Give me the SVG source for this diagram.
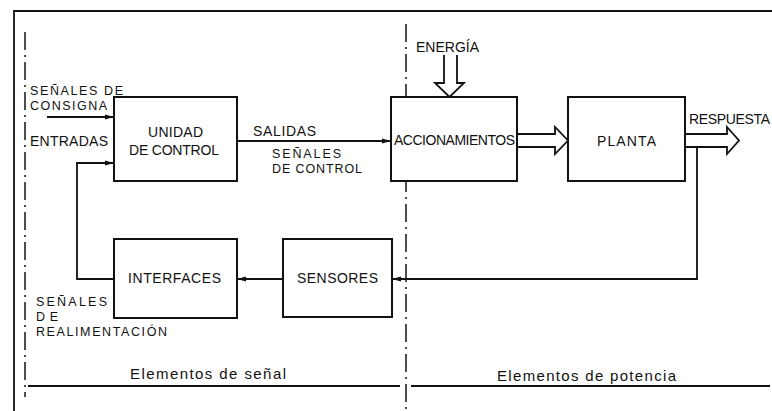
<svg xmlns="http://www.w3.org/2000/svg" width="772" height="411" viewBox="0 0 772 411">
<defs>
<style>
.t{font-family:"Liberation Sans","DejaVu Sans",sans-serif;font-size:14px;fill:#111;}
.s{font-family:"Liberation Sans","DejaVu Sans",sans-serif;font-size:12.5px;fill:#111;}
.tl{font-family:"Liberation Sans","DejaVu Sans",sans-serif;font-size:15px;fill:#111;}
.box{fill:#fff;stroke:#111;stroke-width:2;}
.ln{fill:none;stroke:#111;stroke-width:1.8;}
.dd{fill:none;stroke:#222;stroke-width:1.6;stroke-dasharray:18 5 2 5;}
.hol{fill:#fff;stroke:#111;stroke-width:1.8;stroke-linejoin:miter;}
</style>
<marker id="ah" markerWidth="10" markerHeight="8" refX="9" refY="3.5" orient="auto" markerUnits="userSpaceOnUse">
<path d="M0,1 L9,3.5 L0,6 Z" fill="#111"/>
</marker>
</defs>
<rect width="772" height="411" fill="#fff"/>

<g id="frame">
<path class="ln" d="M14,411 V11 H772" stroke-width="2"/>
<path class="dd" d="M25,32 V397"/>
<path class="dd" d="M406,24 V411"/>
<path class="ln" d="M28,386 H400 M411,386 H770" stroke-width="1.6"/>
<text class="tl" x="130" y="379" textLength="156" lengthAdjust="spacing">Elementos de señal</text>
<text class="tl" x="497" y="381" textLength="179" lengthAdjust="spacing">Elementos de potencia</text>
</g>

<g id="connectors">
<path class="ln" d="M47,117 H114" marker-end="url(#ah)"/>
<path class="ln" d="M114,279 H77 V163 H114" marker-end="url(#ah)"/>
<path class="ln" d="M237,141 H391" marker-end="url(#ah)"/>
<path class="ln" d="M283,279 H237" marker-end="url(#ah)"/>
<path class="ln" d="M697,147 V279 H392" marker-end="url(#ah)"/>
<path class="hol" d="M444,55 V83 H435 L449.5,97 L464,83 H457 V55"/>
<path class="hol" d="M517,134 H555 V127 L568,140.5 L555,154 V147 H517"/>
<path class="hol" d="M685,134 H727 V127 L739,140.5 L727,154 V147 H685"/>
</g>

<g id="labels">
<text class="s" x="30" y="95" textLength="93" lengthAdjust="spacing">SEÑALES DE</text>
<text class="s" x="30" y="110" textLength="77" lengthAdjust="spacing">CONSIGNA</text>
<text class="t" x="30" y="146" textLength="78" lengthAdjust="spacing">ENTRADAS</text>
<text class="t" x="253" y="136" textLength="63" lengthAdjust="spacing">SALIDAS</text>
<text class="s" x="272" y="158" textLength="69" lengthAdjust="spacing">SEÑALES</text>
<text class="s" x="272" y="173" textLength="90" lengthAdjust="spacing">DE CONTROL</text>
<text class="t" x="416" y="52" textLength="63" lengthAdjust="spacing">ENERGÍA</text>
<text class="t" x="689" y="124" textLength="81" lengthAdjust="spacing">RESPUESTA</text>
<text class="s" x="36" y="306" textLength="71" lengthAdjust="spacing">SEÑALES</text>
<text class="s" x="36" y="321" textLength="22" lengthAdjust="spacing">DE</text>
<text class="s" x="36" y="336" textLength="131" lengthAdjust="spacing">REALIMENTACIÓN</text>
</g>

<g id="unidad">
<rect class="box" x="114" y="97" width="123" height="84"/>
<text class="t" x="148" y="137" textLength="55" lengthAdjust="spacing">UNIDAD</text>
<text class="t" x="129" y="155" textLength="90" lengthAdjust="spacing">DE CONTROL</text>
</g>

<g id="accionamientos">
<rect class="box" x="391" y="97" width="126" height="84"/>
<text class="t" x="394" y="145" textLength="121" lengthAdjust="spacing">ACCIONAMIENTOS</text>
</g>

<g id="planta">
<rect class="box" x="568" y="97" width="117" height="84"/>
<text class="t" x="597" y="146" textLength="59" lengthAdjust="spacing">PLANTA</text>
</g>

<g id="interfaces">
<rect class="box" x="114" y="239" width="123" height="79"/>
<text class="t" x="128" y="283" textLength="93" lengthAdjust="spacing">INTERFACES</text>
</g>

<g id="sensores">
<rect class="box" x="283" y="239" width="109" height="78"/>
<text class="t" x="297" y="283" textLength="81" lengthAdjust="spacing">SENSORES</text>
</g>
</svg>
